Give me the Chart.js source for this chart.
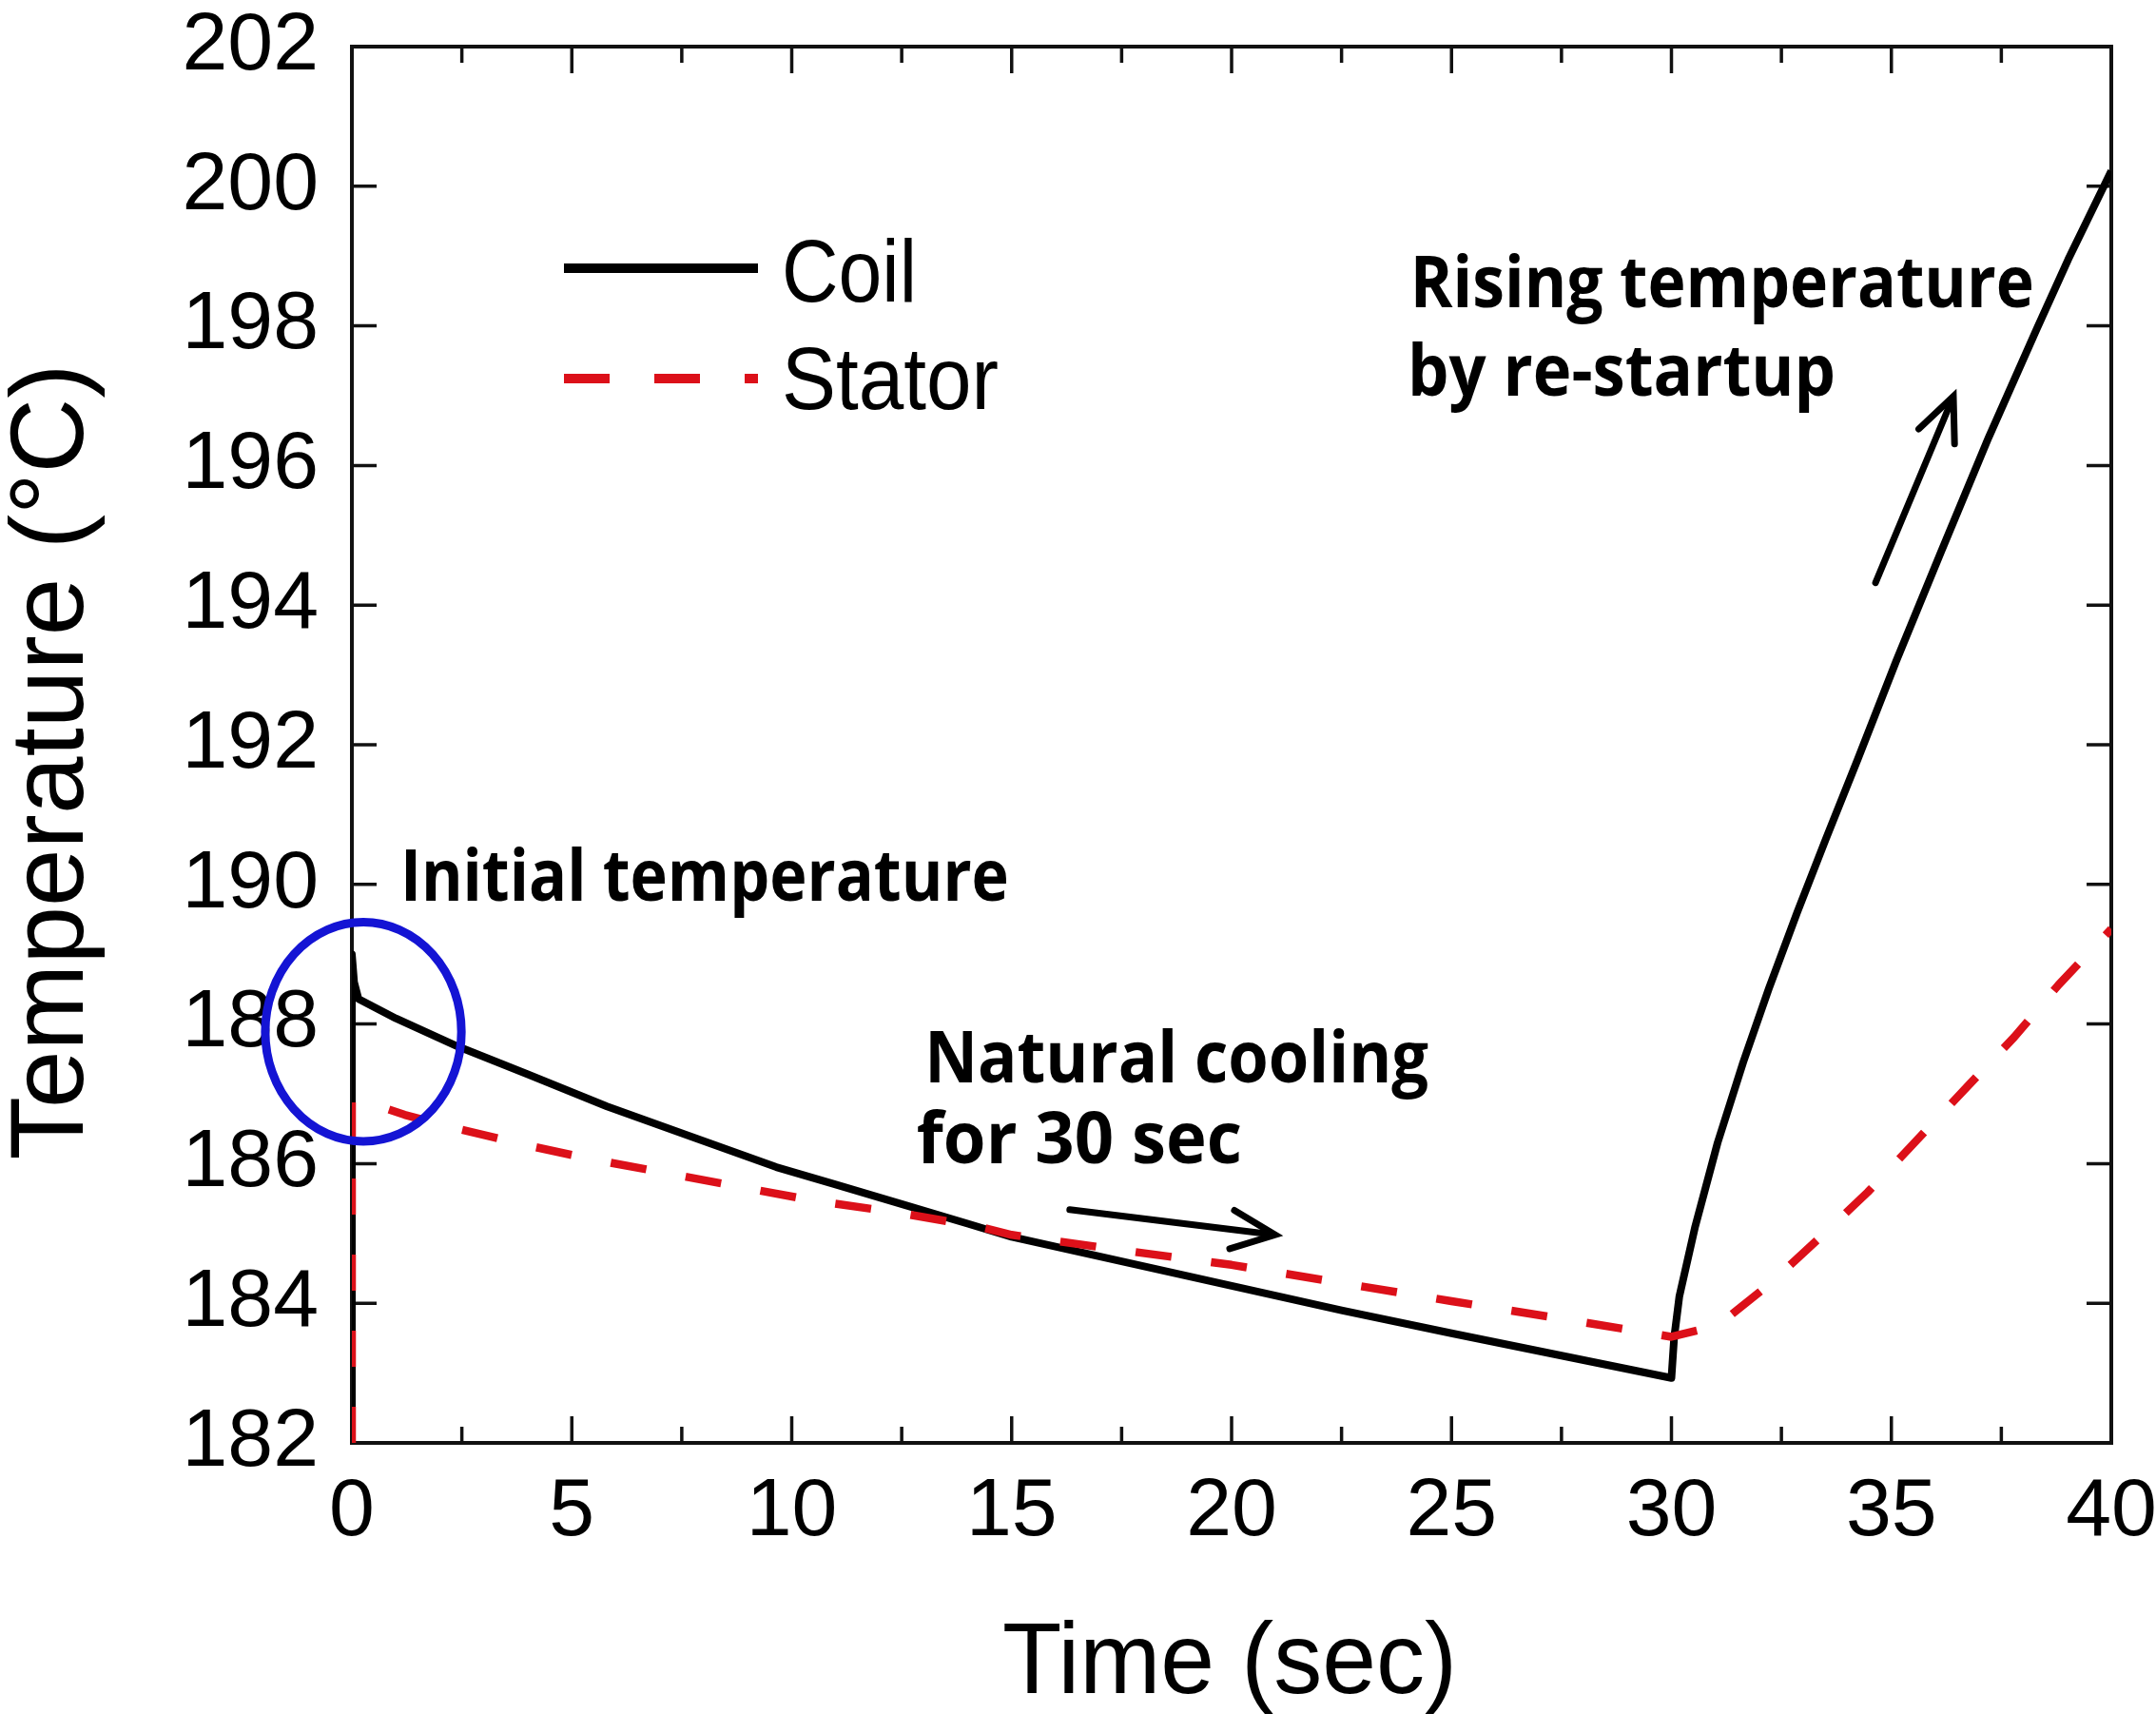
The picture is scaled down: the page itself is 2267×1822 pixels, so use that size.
<!DOCTYPE html>
<html>
<head>
<meta charset="utf-8">
<script src="https://cdn.jsdelivr.net/npm/chart.js@4.4.1/dist/chart.umd.min.js"></script>
<style>
html,body{margin:0;padding:0;background:#fff;overflow:hidden}
#wrap{width:2267px;height:1822px;position:relative;background:#fff}
</style>
</head>
<body>
<div id="wrap"><canvas id="c"></canvas></div>
<script>
// ---------------- data ----------------
const xTicks = [0, 5, 10, 15, 20, 25, 30, 35, 40];
const xMinorTicks = [2.5, 7.5, 12.5, 17.5, 22.5, 27.5, 32.5, 37.5];
const yTicks = [182, 184, 186, 188, 190, 192, 194, 196, 198, 200, 202];

const seriesNames = ['Coil', 'Stator'];

const coilTime = [0, 0, 0.05, 0.15, 1.0, 2.4, 4.0, 5.8, 7.7, 9.65, 11.0, 12.55, 14.0, 15.0, 17.5, 20.0, 22.5, 25.0, 27.5, 30.0,
                  30.06, 30.18, 30.54, 31.05, 31.63, 32.21, 32.86, 33.51, 34.24, 35.11, 36.12, 37.21, 38.3, 39.02, 40.0];
const coilTemp = [182.0, 189.0, 188.6, 188.36, 188.08, 187.68, 187.28, 186.82, 186.39, 185.95, 185.7, 185.41, 185.14, 184.95, 184.6, 184.25, 183.9, 183.57, 183.25, 182.93,
                  183.5, 184.1, 185.1, 186.3, 187.45, 188.5, 189.6, 190.65, 191.8, 193.2, 194.75, 196.4, 197.95, 198.95, 200.22];

const statorTime = [0, 0, 0.29, 1.2, 2.4, 4.0, 5.4, 7.1, 8.8, 10.5, 12.4, 14.3, 15.0, 17.5, 20.0, 22.5, 25.0, 27.5, 30.0,
                    31.05, 32.28, 33.44, 34.46, 35.54, 36.78, 37.79, 38.8, 40.0];
const statorTemp = [182.0, 186.9, 186.89, 186.7, 186.5, 186.26, 186.07, 185.87, 185.67, 185.47, 185.3, 185.09, 184.98, 184.76, 184.55, 184.29, 184.03, 183.78, 183.52,
                    183.68, 184.3, 184.98, 185.59, 186.31, 187.14, 187.81, 188.56, 189.36];

const noteTexts = ['Initial temperature', 'Natural cooling', 'for 30 sec', 'Rising temperature', 'by re-startup'];

// ---------------- layout / styling (annotation anchors in data units) ----------------
const notePlace = [
  {x: 1.10,  y: 189.77, w: 640},
  {x: 13.02, y: 187.16, w: 530},
  {x: 12.84, y: 186.00, w: 342},
  {x: 24.06, y: 198.27, w: 656},
  {x: 24.00, y: 197.00, w: 450}
];
const arrowPlace = [
  {x0: 16.32, y0: 185.34, x1: 20.99, y1: 184.98},
  {x0: 34.64, y0: 194.32, x1: 36.41, y1: 196.99}
];
const ellipsePlace = {x: 0.26, y: 187.89, rx: 2.23, ry: 1.57};

const RED = '#dc1019';
const BLUE = '#1414d4';
const TICK_FONT = '"Liberation Sans", Arial, sans-serif';
const NOTE_FONT = '"Open Sans", "Noto Sans", sans-serif';

const toPts = (xs, ys) => xs.map((t, i) => ({x: t, y: ys[i]}));

const noPad = s => { s.paddingTop = 0; s.paddingBottom = 0; s.paddingLeft = 0; s.paddingRight = 0; };

const decor = {
  id: 'decor',
  beforeDatasetsDraw(chart) {
    const {ctx, chartArea: a, scales: {x, y}} = chart;
    ctx.save();
    ctx.strokeStyle = '#111';
    ctx.lineCap = 'butt';
    ctx.lineWidth = 3.5;
    ctx.beginPath();
    xTicks.forEach(v => {
      const p = x.getPixelForValue(v);
      ctx.moveTo(p, a.bottom); ctx.lineTo(p, a.bottom - 28);
      ctx.moveTo(p, a.top); ctx.lineTo(p, a.top + 28);
    });
    xMinorTicks.forEach(v => {
      const p = x.getPixelForValue(v);
      ctx.moveTo(p, a.bottom); ctx.lineTo(p, a.bottom - 17);
      ctx.moveTo(p, a.top); ctx.lineTo(p, a.top + 17);
    });
    yTicks.forEach(v => {
      const p = y.getPixelForValue(v);
      ctx.moveTo(a.left, p); ctx.lineTo(a.left + 26, p);
      ctx.moveTo(a.right, p); ctx.lineTo(a.right - 26, p);
    });
    ctx.stroke();
    ctx.lineWidth = 4;
    ctx.strokeRect(a.left, a.top, a.right - a.left, a.bottom - a.top);
    ctx.restore();
  },
  afterDraw(chart) {
    const {ctx, chartArea: a, scales: {x, y}} = chart;
    ctx.save();
    ctx.fillStyle = '#000';

    // axis titles
    ctx.font = '106px ' + TICK_FONT;
    ctx.textAlign = 'center';
    ctx.textBaseline = 'alphabetic';
    ctx.fillText('Time (sec)', (a.left + a.right) / 2 - 2, a.bottom + 263, 478);
    ctx.save();
    ctx.translate(a.left - 283, a.top + 752);
    ctx.rotate(-Math.PI / 2);
    ctx.font = '109px ' + TICK_FONT;
    ctx.fillText('Temperature (°C)', 0, 0);
    ctx.restore();

    // legend
    const lx0 = a.left + 223, lx1 = a.left + 427;
    ctx.lineCap = 'butt';
    ctx.strokeStyle = '#000';
    ctx.lineWidth = 10;
    ctx.beginPath(); ctx.moveTo(lx0, a.top + 233); ctx.lineTo(lx1, a.top + 233); ctx.stroke();
    ctx.strokeStyle = RED;
    ctx.setLineDash([48, 47]);
    ctx.beginPath(); ctx.moveTo(lx0, a.top + 349); ctx.lineTo(lx1, a.top + 349); ctx.stroke();
    ctx.setLineDash([]);
    ctx.font = '92px ' + TICK_FONT;
    ctx.textAlign = 'left';
    ctx.fillText(seriesNames[0], a.left + 452, a.top + 268, 142);
    ctx.fillText(seriesNames[1], a.left + 452, a.top + 381, 228);

    // ellipse
    ctx.strokeStyle = BLUE;
    ctx.lineWidth = 9;
    const ecx = x.getPixelForValue(ellipsePlace.x), ecy = y.getPixelForValue(ellipsePlace.y);
    const erx = x.getPixelForValue(ellipsePlace.x + ellipsePlace.rx) - ecx;
    const ery = ecy - y.getPixelForValue(ellipsePlace.y + ellipsePlace.ry);
    ctx.beginPath(); ctx.ellipse(ecx, ecy, erx, ery, 0, 0, Math.PI * 2); ctx.stroke();

    // arrows
    ctx.strokeStyle = '#000';
    ctx.fillStyle = '#000';
    ctx.lineWidth = 7;
    ctx.lineCap = 'round';
    ctx.lineJoin = 'miter';
    arrowPlace.forEach(ar => {
      const p0x = x.getPixelForValue(ar.x0), p0y = y.getPixelForValue(ar.y0);
      const p1x = x.getPixelForValue(ar.x1), p1y = y.getPixelForValue(ar.y1);
      const ang = Math.atan2(p1y - p0y, p1x - p0x);
      const L = 50, s = 0.42;
      ctx.beginPath();
      ctx.moveTo(p0x, p0y); ctx.lineTo(p1x - 6 * Math.cos(ang), p1y - 6 * Math.sin(ang));
      ctx.stroke();
      ctx.beginPath();
      ctx.moveTo(p1x - L * Math.cos(ang - s), p1y - L * Math.sin(ang - s));
      ctx.lineTo(p1x, p1y);
      ctx.lineTo(p1x - L * Math.cos(ang + s), p1y - L * Math.sin(ang + s));
      ctx.stroke();
    });

    // notes
    ctx.fillStyle = '#000';
    ctx.font = 'bold 76px ' + NOTE_FONT;
    ctx.textAlign = 'left';
    ctx.textBaseline = 'alphabetic';
    noteTexts.forEach((t, i) => {
      const n = notePlace[i];
      ctx.fillText(t, x.getPixelForValue(n.x), y.getPixelForValue(n.y), n.w);
    });
    ctx.restore();
  }
};

new Chart(document.getElementById('c'), {
  type: 'scatter',
  data: {
    datasets: [
      {
        label: seriesNames[0],
        data: toPts(coilTime, coilTemp),
        showLine: true,
        borderColor: '#000',
        backgroundColor: '#000',
        borderWidth: 8,
        pointRadius: 0,
        tension: 0,
        borderJoinStyle: 'round',
        order: 2
      },
      {
        label: seriesNames[1],
        data: toPts(statorTime, statorTemp),
        showLine: true,
        borderColor: RED,
        backgroundColor: RED,
        borderWidth: 8.5,
        borderDash: [38, 42],
        pointRadius: 0,
        tension: 0,
        borderJoinStyle: 'round',
        order: 1
      }
    ]
  },
  options: {
    responsive: true,
    maintainAspectRatio: false,
    devicePixelRatio: 1,
    animation: false,
    layout: {padding: {top: 49, right: 47, left: 0, bottom: 0}},
    plugins: {legend: {display: false}, tooltip: {enabled: false}, title: {display: false}},
    scales: {
      x: {
        type: 'linear', min: 0, max: 40,
        grid: {display: false, drawTicks: false},
        border: {display: false},
        afterBuildTicks: s => { s.ticks = xTicks.map(v => ({value: v})); },
        afterFit: s => { s.height = 305; noPad(s); },
        ticks: {color: '#000', padding: 22, maxRotation: 0, font: {family: TICK_FONT, size: 86}}
      },
      y: {
        type: 'linear', min: 182, max: 202,
        grid: {display: false, drawTicks: false},
        border: {display: false},
        afterBuildTicks: s => { s.ticks = yTicks.map(v => ({value: v})); },
        afterFit: s => { s.width = 370; noPad(s); },
        ticks: {color: '#000', padding: 35, font: {family: TICK_FONT, size: 86}}
      }
    }
  },
  plugins: [decor]
});
</script>
</body>
</html>
